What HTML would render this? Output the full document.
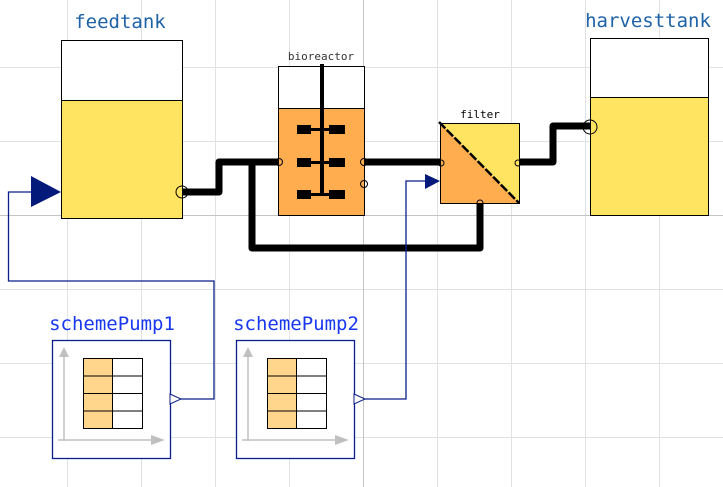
<!DOCTYPE html>
<html><head><meta charset="utf-8"><style>body{margin:0;background:#fff}svg{display:block}</style></head><body>
<svg width="723" height="487" viewBox="0 0 723 487" xmlns="http://www.w3.org/2000/svg" font-family="'DejaVu Sans Mono','Liberation Mono',monospace">
<g stroke="#e2e2e2" stroke-width="1">
<line x1="67.5" y1="0" x2="67.5" y2="487"/><line x1="141.5" y1="0" x2="141.5" y2="487"/><line x1="215.5" y1="0" x2="215.5" y2="487"/><line x1="289.5" y1="0" x2="289.5" y2="487"/><line x1="437.5" y1="0" x2="437.5" y2="487"/><line x1="511.5" y1="0" x2="511.5" y2="487"/><line x1="585.5" y1="0" x2="585.5" y2="487"/><line x1="659.5" y1="0" x2="659.5" y2="487"/>
<line x1="0" y1="67.5" x2="723" y2="67.5"/><line x1="0" y1="141.5" x2="723" y2="141.5"/><line x1="0" y1="289.5" x2="723" y2="289.5"/><line x1="0" y1="363.5" x2="723" y2="363.5"/><line x1="0" y1="437.5" x2="723" y2="437.5"/>
</g>
<g stroke="#c4c4c4"><line x1="363.5" y1="0" x2="363.5" y2="487"/><line x1="0" y1="215.5" x2="723" y2="215.5"/></g>
<!-- feedtank -->
<rect x="61.5" y="40.5" width="121" height="178" fill="#fff" stroke="#000"/>
<rect x="61.5" y="100.5" width="121" height="118" fill="#ffe462" stroke="#000"/>
<text x="120" y="28" font-size="19" fill="#1e62a8" text-anchor="middle">feedtank</text>
<!-- harvesttank -->
<rect x="590.5" y="38.5" width="118" height="177" fill="#fff" stroke="#000"/>
<rect x="590.5" y="97.5" width="118" height="118" fill="#ffe462" stroke="#000"/>
<text x="648" y="27" font-size="19" fill="#1e62a8" text-anchor="middle">harvesttank</text>
<!-- pipes -->
<g fill="none" stroke="#000" stroke-width="7" stroke-linejoin="round">
<polyline points="182,192 219,192 219,162 278,162"/>
<polyline points="252,162 252,248 480,248 480,203"/>
<polyline points="364,162 440,162"/>
<polyline points="519,162 553,162 553,126 590,126"/>
</g>
<!-- bioreactor -->
<rect x="278.5" y="66.5" width="86" height="149" fill="#fff" stroke="#000"/>
<rect x="278.5" y="108.5" width="86" height="107" fill="#ffad4f" stroke="#000"/>
<line x1="322" y1="64" x2="322" y2="195" stroke="#000" stroke-width="4"/>
<g fill="#000">
<rect x="297" y="125" width="14" height="9"/><rect x="329" y="125" width="16" height="9"/><rect x="310" y="128" width="20" height="3"/>
<rect x="297" y="158" width="14" height="9"/><rect x="329" y="158" width="16" height="9"/><rect x="310" y="161" width="20" height="3"/>
<rect x="297" y="190" width="14" height="9"/><rect x="329" y="190" width="16" height="9"/><rect x="310" y="193" width="20" height="3"/>
</g>
<text x="321" y="60" font-size="11" fill="#333" text-anchor="middle">bioreactor</text>
<!-- filter -->
<rect x="440.5" y="123.5" width="79" height="80" fill="#ffe462" stroke="#000"/>
<polygon points="440.5,123.5 519.5,203.5 440.5,203.5" fill="#ffad4f"/>
<rect x="440.5" y="123.5" width="79" height="80" fill="none" stroke="#000"/>
<line x1="439" y1="122" x2="519" y2="203" stroke="#000" stroke-width="2.5" stroke-dasharray="9,2"/>
<text x="480" y="118" font-size="11" fill="#000" text-anchor="middle">filter</text>
<!-- ports -->
<g fill="none" stroke="#000" stroke-width="1">
<circle cx="182" cy="192" r="6"/><circle cx="590" cy="127" r="7"/>
<circle cx="279" cy="162" r="3.5"/><circle cx="364" cy="162" r="3.5"/><circle cx="364" cy="184" r="3.5"/>
<circle cx="441" cy="163" r="3"/><circle cx="518" cy="163" r="3"/><circle cx="480" cy="203" r="3"/>
</g>
<!-- signal lines -->
<g fill="none" stroke="#0a1f8a" stroke-width="1.3">
<polyline points="176,399 214,399 214,281 8.5,281 8.5,192 32,192"/>
<polyline points="360,399 406,399 406,181 425,181"/>
</g>
<polygon points="31,176 61,192 31,207" fill="#031a7a"/>
<polygon points="425,174 440,181 425,189" fill="#031a7a"/>
<!-- pumps -->
<g>
<rect x="52.5" y="340.5" width="118" height="118" fill="#fff" stroke="#0a1f8a" stroke-width="1.3"/>
<polygon points="170,394 181,399 170,404" fill="#fff" stroke="#0a1f8a"/>
<line x1="64" y1="352" x2="64" y2="441" stroke="#c0c0c0" stroke-width="1.5"/><polygon points="59,357 64,347 69,357" fill="#c0c0c0"/>
<line x1="58" y1="440" x2="155" y2="440" stroke="#c0c0c0" stroke-width="1.5"/><polygon points="151,435 165,440 151,445" fill="#c0c0c0"/>
<rect x="83.5" y="358.5" width="29" height="70" fill="#ffd68c"/>
<g stroke="#000" fill="none"><rect x="83.5" y="358.5" width="59" height="70"/><line x1="112.5" y1="358" x2="112.5" y2="429"/><line x1="83" y1="376" x2="143" y2="376"/><line x1="83" y1="393.5" x2="143" y2="393.5"/><line x1="83" y1="411" x2="143" y2="411"/></g>
<text x="112" y="330" font-size="19" fill="#1838f0" text-anchor="middle">schemePump1</text>
</g>
<g transform="translate(184,0)">
<rect x="52.5" y="340.5" width="118" height="118" fill="#fff" stroke="#0a1f8a" stroke-width="1.3"/>
<polygon points="170,394 181,399 170,404" fill="#fff" stroke="#0a1f8a"/>
<line x1="64" y1="352" x2="64" y2="441" stroke="#c0c0c0" stroke-width="1.5"/><polygon points="59,357 64,347 69,357" fill="#c0c0c0"/>
<line x1="58" y1="440" x2="155" y2="440" stroke="#c0c0c0" stroke-width="1.5"/><polygon points="151,435 165,440 151,445" fill="#c0c0c0"/>
<rect x="83.5" y="358.5" width="29" height="70" fill="#ffd68c"/>
<g stroke="#000" fill="none"><rect x="83.5" y="358.5" width="59" height="70"/><line x1="112.5" y1="358" x2="112.5" y2="429"/><line x1="83" y1="376" x2="143" y2="376"/><line x1="83" y1="393.5" x2="143" y2="393.5"/><line x1="83" y1="411" x2="143" y2="411"/></g>
<text x="112" y="330" font-size="19" fill="#1838f0" text-anchor="middle">schemePump2</text>
</g>
</svg>
</body></html>
